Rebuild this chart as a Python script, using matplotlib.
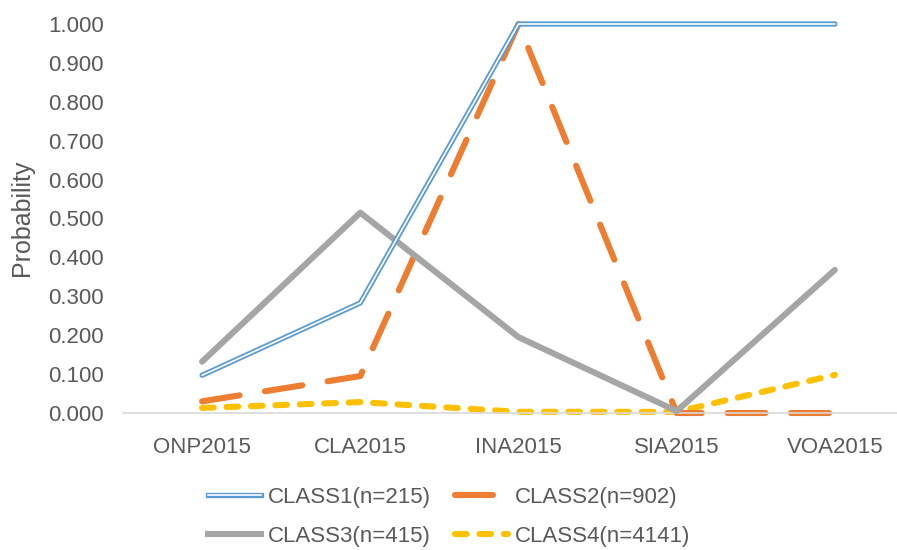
import matplotlib
matplotlib.use("Agg")
import matplotlib.pyplot as plt
from matplotlib.lines import Line2D

plt.rcParams['font.family'] = ['Liberation Sans', 'DejaVu Sans']

categories = ["ONP2015", "CLA2015", "INA2015", "SIA2015", "VOA2015"]
class1 = [0.097, 0.283, 1.000, 1.000, 1.000]
class2 = [0.030, 0.095, 1.000, 0.000, 0.000]
class3 = [0.132, 0.515, 0.195, 0.005, 0.368]
class4 = [0.013, 0.028, 0.003, 0.003, 0.098]
labels = ["CLASS1(n=215)", "CLASS2(n=902)", "CLASS3(n=415)", "CLASS4(n=4141)"]
yticks = [0.0, 0.1, 0.2, 0.3, 0.4, 0.5, 0.6, 0.7, 0.8, 0.9, 1.0]

blue = "#5B9BD5"
orange = "#ED7D31"
gray = "#A5A5A5"
yellow = "#FFC000"
txt = "#595959"

fig = plt.figure(figsize=(8.97, 5.5), dpi=100)
ax = fig.add_axes([123/897, (550-413)/550, (914-123)/897, (413-24)/550])

x = list(range(len(categories)))

lw = 4.4
l3, = ax.plot(x, class3, color=gray, lw=lw, solid_capstyle='round', clip_on=False, zorder=3)
l1a, = ax.plot(x, class1, color=blue, lw=3.8, solid_capstyle='round', clip_on=False, zorder=4)
l1b, = ax.plot(x, class1, color="white", lw=1.2, solid_capstyle='round', clip_on=False, zorder=5)
l2, = ax.plot(x, class2, color=orange, lw=lw, dashes=(6.2, 4.2), dash_capstyle='round',
              clip_on=False, zorder=2)
l4, = ax.plot(x, class4, color=yellow, lw=lw, dashes=(1.9, 2.1), dash_capstyle='round',
              clip_on=False, zorder=1)

ax.set_xlim(-0.5, len(categories) - 0.5)
ax.set_ylim(0, 1.0)
ax.set_yticks(yticks)
ax.set_yticklabels([f"{v:.3f}" for v in yticks])
ax.set_xticks(x)
ax.set_xticklabels(categories)
ax.tick_params(axis='y', length=0, pad=14, labelsize=16, colors=txt)
ax.tick_params(axis='x', length=0, pad=17, labelsize=16, colors=txt)
for s in ['top', 'right', 'left']:
    ax.spines[s].set_visible(False)
ax.spines['bottom'].set_color("#D9D9D9")
ax.spines['bottom'].set_linewidth(1.2)
ax.set_ylabel("Probability", fontsize=18, color=txt)
ax.yaxis.set_label_coords(-(123 - 34) / 791, (413 - 218) / 389)

h1 = (Line2D([], [], color=blue, lw=3.8), Line2D([], [], color="white", lw=1.2))
h2 = Line2D([], [], color=orange, lw=lw, dashes=(6.2, 4.2), dash_capstyle='round')
h3 = Line2D([], [], color=gray, lw=lw)
h4 = Line2D([], [], color=yellow, lw=lw, dashes=(1.9, 2.1), dash_capstyle='round')
leg = fig.legend([h1, h3, h2, h4], [labels[0], labels[2], labels[1], labels[3]], ncol=2,
                 loc='center', bbox_to_anchor=(449/897, 1 - 517/550), frameon=False,
                 fontsize=16, handlelength=2.4, handletextpad=0.3,
                 columnspacing=1.1, labelspacing=0.8, borderpad=0)
for t in leg.get_texts():
    t.set_color(txt)

fig.savefig("out.png", dpi=100)
